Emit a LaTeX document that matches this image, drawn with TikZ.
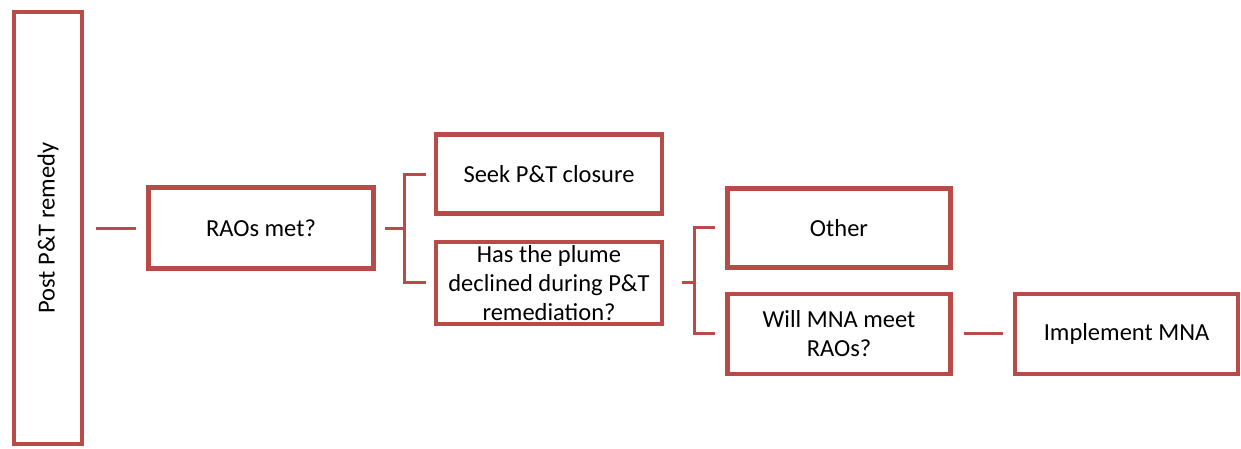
\documentclass[tikz,border=0pt]{standalone}
\usepackage{fontspec}
\setmainfont{Carlito}
\usepackage{xcolor}
\usepackage{tikz}
\usetikzlibrary{positioning,shadows}

\definecolor{boxred}{RGB}{184,74,72}

\begin{document}
\begin{tikzpicture}[
  x=1pt, y=1pt,
  box/.style={rectangle, draw=boxred, line width=4.5pt, fill=white, minimum width=223pt, minimum height=79pt, align=center, font=\fontsize{24.5}{29}\selectfont, drop shadow={shadow xshift=2pt, shadow yshift=-2pt, opacity=0.25}},
  link/.style={draw=boxred, line width=3pt}
]
\useasboundingbox (0,0) rectangle (1241,-448);
\node[box, minimum width=68pt, minimum height=432pt] (post) at (48,-228) {\rotatebox{90}{Post P\&T remedy}};
\node[box, minimum width=225pt, minimum height=81pt, right=62pt of post] (raos) {RAOs met?};
\node[box, minimum width=226pt, right=58pt of raos, yshift=54pt] (seek) {Seek P\&T closure};
\node[box, minimum width=226pt, below=24pt of seek] (plume) {Has the plume\\declined during P\&T\\remediation?};
\node[box, right=61pt of plume, yshift=55pt] (other) {Other};
\node[box, minimum height=80pt, below=22pt of other] (mna) {Will MNA meet\\RAOs?};
\node[box, minimum height=80pt, right=60pt of mna] (impl) {Implement MNA};

% forks of the brackets
\coordinate (fork1) at ([xshift=29pt]raos.east);
\coordinate (fork2) at ([xshift=30pt]plume.east);

\draw[link] ([xshift=12pt]post.east) -- ([xshift=-10pt]raos.west);
\draw[link] ([xshift=9pt]raos.east) -- (fork1);
\draw[link] ([xshift=-8pt]seek.west) -| (fork1) |- ([xshift=-8pt]plume.west);
\draw[link] ([xshift=18pt]plume.east) -- (fork2);
\draw[link] ([xshift=-10pt]other.west) -| (fork2) |- ([xshift=-10pt]mna.west);
\draw[link] ([xshift=11pt]mna.east) -- ([xshift=-10pt]impl.west);
\end{tikzpicture}
\end{document}
